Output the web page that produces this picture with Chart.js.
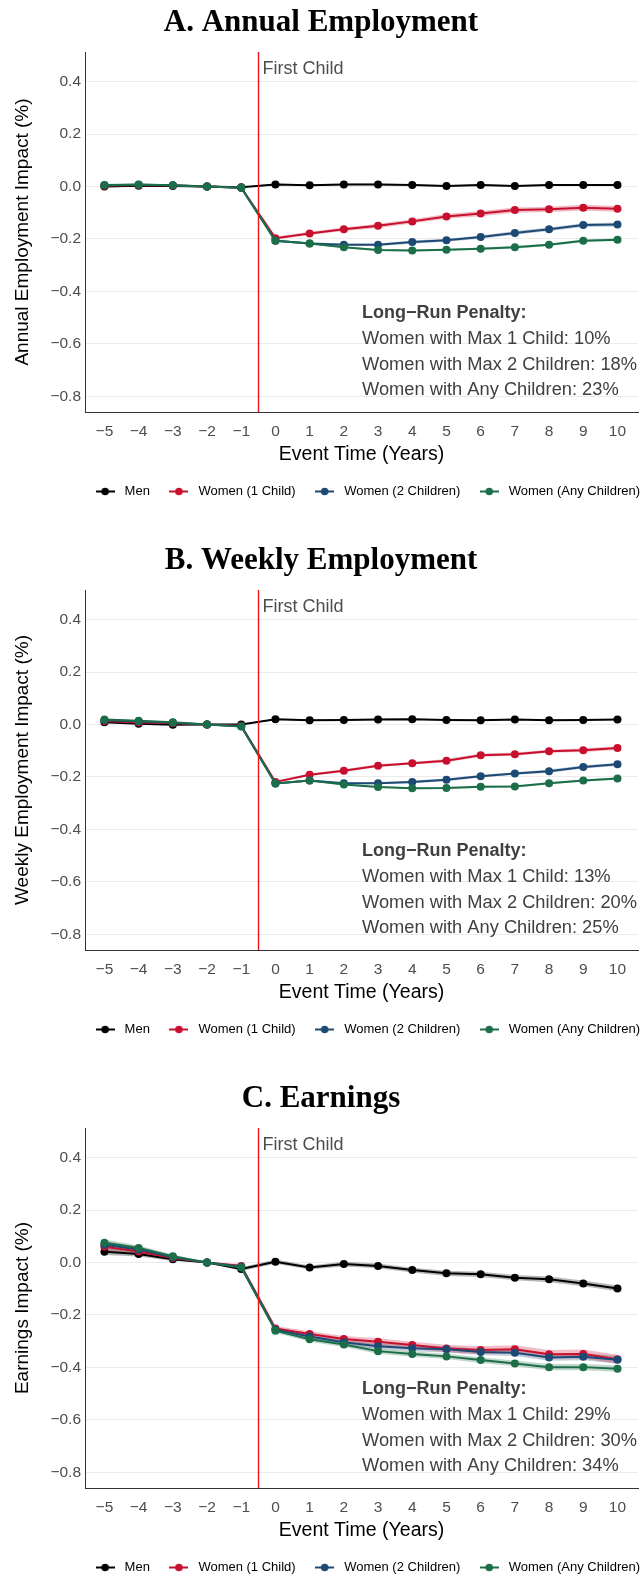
<!DOCTYPE html>
<html>
<head>
<meta charset="utf-8">
<script src="https://cdn.jsdelivr.net/npm/chart.js@4.4.1/dist/chart.umd.min.js"></script>
<style>
  body { margin: 0; background: #fff; overflow: hidden; }
  .panel { width: 642px; height: 538px; }
</style>
</head>
<body>
<div class="panel"><canvas id="chartA" width="642" height="538"></canvas></div>
<div class="panel"><canvas id="chartB" width="642" height="538"></canvas></div>
<div class="panel"><canvas id="chartC" width="642" height="538"></canvas></div>
<script>
// event time and axis ticks
const eventTime = [-5, -4, -3, -2, -1, 0, 1, 2, 3, 4, 5, 6, 7, 8, 9, 10];
const yTicks = [-0.8, -0.6, -0.4, -0.2, 0.0, 0.2, 0.4];
const seriesNames = ['Men', 'Women (1 Child)', 'Women (2 Children)', 'Women (Any Children)'];
const seriesColors = ['#000000', '#c8102e', '#1c4a75', '#1b6e48'];

// A. Annual employment
const menA      = [0.000, 0.003, 0.002, 0.000, -0.003, 0.008, 0.005, 0.008, 0.008, 0.006, 0.002, 0.006, 0.002, 0.006, 0.006, 0.006];
const oneChildA = [0.003, 0.006, 0.004, 0.000, -0.005, -0.197, -0.179, -0.163, -0.150, -0.133, -0.114, -0.103, -0.090, -0.087, -0.081, -0.085];
const twoChildA = [0.005, 0.007, 0.005, 0.000, -0.005, -0.207, -0.217, -0.222, -0.222, -0.212, -0.205, -0.193, -0.177, -0.163, -0.147, -0.145];
const anyChildA = [0.006, 0.008, 0.005, 0.000, -0.005, -0.207, -0.217, -0.232, -0.242, -0.244, -0.241, -0.237, -0.232, -0.222, -0.207, -0.203];
const ciMenA    = [0.004, 0.003, 0.002, 0, 0.002, 0.003, 0.003, 0.003, 0.003, 0.003, 0.003, 0.003, 0.003, 0.003, 0.003, 0.003];
const ciOneA    = [0.004, 0.003, 0.002, 0, 0.003, 0.005, 0.006, 0.007, 0.008, 0.008, 0.009, 0.010, 0.010, 0.010, 0.011, 0.011];
const ciTwoA    = [0.004, 0.003, 0.002, 0, 0.003, 0.004, 0.004, 0.005, 0.005, 0.006, 0.006, 0.006, 0.007, 0.007, 0.007, 0.008];
const ciAnyA    = [0.003, 0.002, 0.002, 0, 0.002, 0.003, 0.003, 0.003, 0.004, 0.004, 0.004, 0.004, 0.005, 0.005, 0.005, 0.005];
const penaltyA  = ['10%', '18%', '23%'];

// B. Weekly employment
const menB      = [0.009, 0.003, -0.001, 0.000, 0.000, 0.020, 0.016, 0.017, 0.019, 0.020, 0.017, 0.016, 0.019, 0.016, 0.017, 0.019];
const oneChildB = [0.013, 0.008, 0.005, 0.000, -0.005, -0.219, -0.192, -0.176, -0.157, -0.148, -0.138, -0.117, -0.113, -0.102, -0.098, -0.090];
const twoChildB = [0.016, 0.011, 0.007, 0.000, -0.007, -0.225, -0.214, -0.224, -0.224, -0.219, -0.211, -0.197, -0.187, -0.178, -0.162, -0.152];
const anyChildB = [0.019, 0.014, 0.009, 0.000, -0.008, -0.225, -0.214, -0.229, -0.238, -0.243, -0.242, -0.237, -0.236, -0.224, -0.214, -0.206];
const ciMenB    = [0.003, 0.002, 0.002, 0, 0.002, 0.003, 0.003, 0.003, 0.003, 0.003, 0.003, 0.003, 0.003, 0.003, 0.003, 0.003];
const ciOneB    = [0.004, 0.003, 0.002, 0, 0.003, 0.004, 0.004, 0.005, 0.005, 0.005, 0.006, 0.006, 0.006, 0.006, 0.007, 0.007];
const ciTwoB    = [0.003, 0.003, 0.002, 0, 0.002, 0.004, 0.004, 0.004, 0.004, 0.005, 0.005, 0.005, 0.005, 0.006, 0.006, 0.006];
const ciAnyB    = [0.003, 0.002, 0.002, 0, 0.002, 0.003, 0.003, 0.003, 0.003, 0.004, 0.004, 0.004, 0.004, 0.004, 0.004, 0.005];
const penaltyB  = ['13%', '20%', '25%'];

// C. Earnings
const menC      = [0.041, 0.032, 0.012, 0.000, -0.025, 0.003, -0.019, -0.006, -0.013, -0.029, -0.041, -0.045, -0.058, -0.064, -0.080, -0.099];
const oneChildC = [0.060, 0.042, 0.017, 0.000, -0.013, -0.252, -0.273, -0.292, -0.302, -0.315, -0.328, -0.334, -0.331, -0.350, -0.349, -0.369];
const twoChildC = [0.068, 0.050, 0.020, 0.000, -0.016, -0.256, -0.282, -0.304, -0.319, -0.327, -0.331, -0.341, -0.344, -0.362, -0.359, -0.371];
const anyChildC = [0.075, 0.055, 0.024, 0.000, -0.019, -0.260, -0.293, -0.313, -0.338, -0.349, -0.358, -0.372, -0.385, -0.399, -0.399, -0.405];
const ciMenC    = [0.012, 0.009, 0.006, 0, 0.007, 0.008, 0.008, 0.009, 0.009, 0.009, 0.010, 0.010, 0.010, 0.011, 0.011, 0.011];
const ciOneC    = [0.015, 0.012, 0.008, 0, 0.008, 0.010, 0.011, 0.012, 0.013, 0.013, 0.014, 0.015, 0.015, 0.016, 0.017, 0.017];
const ciTwoC    = [0.014, 0.011, 0.007, 0, 0.007, 0.009, 0.010, 0.010, 0.011, 0.011, 0.012, 0.012, 0.013, 0.013, 0.014, 0.014];
const ciAnyC    = [0.013, 0.010, 0.007, 0, 0.007, 0.008, 0.009, 0.009, 0.010, 0.010, 0.010, 0.011, 0.011, 0.012, 0.012, 0.012];
const penaltyC  = ['29%', '30%', '34%'];

const penaltyLabels = ['Women with Max 1 Child: ', 'Women with Max 2 Children: ', 'Women with Any Children: '];

Chart.defaults.font.family = '"Liberation Sans", Arial, sans-serif';

function hexA(hex, a) {
    const n = parseInt(hex.slice(1), 16);
    return `rgba(${n >> 16}, ${(n >> 8) & 255}, ${n & 255}, ${a})`;
}

function legendMarker(color) {
    const c = document.createElement('canvas');
    c.width = 19; c.height = 9;
    const g = c.getContext('2d');
    g.strokeStyle = color; g.lineWidth = 2;
    g.beginPath(); g.moveTo(0, 4.5); g.lineTo(19, 4.5); g.stroke();
    g.fillStyle = color;
    g.beginPath(); g.arc(9.5, 4.5, 3.8, 0, Math.PI * 2); g.fill();
    return c;
}

// red line at first child + text notes
const notesPlugin = {
    id: 'panelNotes',
    afterLayout(chart) {
        // legend sits a bit further right and up in the original
        chart.legend.left += 14;
        chart.legend.right += 14;
        chart.legend.top -= 3;
        chart.legend.bottom -= 3;
    },
    afterDatasetsDraw(chart, args, opts) {
        const { ctx, chartArea, scales } = chart;
        const xs = scales.x, ys = scales.y;
        const lx = Math.round(xs.getPixelForValue(-0.5)) + 0.5;
        ctx.save();
        ctx.strokeStyle = '#f01414';
        ctx.lineWidth = 1.4;
        ctx.beginPath();
        ctx.moveTo(lx, chartArea.top);
        ctx.lineTo(lx, chartArea.bottom);
        ctx.stroke();

        ctx.fillStyle = '#4d4d4d';
        ctx.textBaseline = 'middle';
        ctx.textAlign = 'left';
        ctx.font = '18px "Liberation Sans", Arial, sans-serif';
        ctx.fillText('First Child', lx + 4, ys.getPixelForValue(0.447));

        const tx = xs.getPixelForValue(2.53);
        ctx.fillStyle = '#404040';
        ctx.font = 'bold 18px "Liberation Sans", Arial, sans-serif';
        ctx.fillText('Long\u2212Run Penalty:', tx, ys.getPixelForValue(-0.482));
        ctx.font = '18.3px "Liberation Sans", Arial, sans-serif';
        const rows = [-0.582, -0.679, -0.776];
        opts.penalty.forEach((p, i) => {
            ctx.fillText(penaltyLabels[i] + p, tx, ys.getPixelForValue(rows[i]));
        });
        ctx.restore();
    }
};

function makePanel(id, title, yTitle, values, cis, penalty) {
    const lines = values.map((v, i) => ({
        label: seriesNames[i],
        data: v,
        borderColor: seriesColors[i],
        backgroundColor: seriesColors[i],
        borderWidth: 2,
        pointRadius: 4,
        pointBorderWidth: 0,
        tension: 0,
        fill: false,
        order: 4 - i
    }));
    const bands = [];
    values.forEach((v, i) => {
        bands.push({
            label: seriesNames[i] + ' lo',
            data: v.map((y, k) => y - cis[i][k]),
            borderWidth: 0, pointRadius: 0, fill: false, order: 20
        });
        bands.push({
            label: seriesNames[i] + ' hi',
            data: v.map((y, k) => y + cis[i][k]),
            borderWidth: 0, pointRadius: 0, fill: '-1',
            backgroundColor: hexA(seriesColors[i], 0.28), order: 20
        });
    });

    new Chart(document.getElementById(id), {
        type: 'line',
        data: { labels: eventTime, datasets: lines.concat(bands) },
        options: {
            responsive: false,
            animation: false,
            layout: { padding: { top: 0, left: 0, right: 0, bottom: 27 } },
            scales: {
                x: {
                    type: 'linear',
                    min: -5.568, max: 10.6,
                    afterBuildTicks: s => { s.ticks = eventTime.map(v => ({ value: v })); },
                    afterFit: s => { s.height = 60; },
                    grid: { display: false, drawTicks: false },
                    border: { display: true, color: '#333333', width: 1 },
                    ticks: {
                        padding: 10, color: '#4d4d4d', font: { size: 15.5 },
                        callback: v => (v < 0 ? '\u2212' : '') + Math.abs(v)
                    },
                    title: {
                        display: true, text: 'Event Time (Years)', color: '#000',
                        font: { size: 19.5 }, padding: { top: 0, bottom: 6 }
                    }
                },
                y: {
                    min: -0.86, max: 0.513,
                    afterBuildTicks: s => { s.ticks = yTicks.map(v => ({ value: v })); },
                    afterFit: s => { s.width = 85; },
                    grid: { color: '#ebebeb', lineWidth: 1, drawTicks: false },
                    border: { display: true, color: '#333333', width: 1 },
                    ticks: {
                        padding: 4, color: '#4d4d4d', font: { size: 15.5 },
                        callback: v => (v < -0.001 ? '\u2212' : '') + Math.abs(v).toFixed(1)
                    },
                    title: {
                        display: true, text: yTitle, color: '#000',
                        font: { size: 19 }, padding: { top: 11, bottom: 0 }
                    }
                }
            },
            plugins: {
                title: {
                    display: true, text: title, color: '#000',
                    font: { family: '"Liberation Serif", "Times New Roman", serif', size: 31, weight: 'bold' },
                    padding: { top: 4, bottom: 10.8 }
                },
                legend: {
                    position: 'bottom',
                    align: 'end',
                    labels: {
                        usePointStyle: true,
                        pointStyleWidth: 26,
                        padding: 16,
                        color: '#1a1a1a',
                        font: { size: 13 },
                        generateLabels: () => seriesNames.map((n, i) => ({
                            text: n,
                            pointStyle: legendMarker(seriesColors[i]),
                            fillStyle: seriesColors[i],
                            strokeStyle: seriesColors[i],
                            lineWidth: 0,
                            hidden: false,
                            datasetIndex: i
                        }))
                    }
                },
                tooltip: { enabled: false },
                panelNotes: { penalty: penalty }
            }
        },
        plugins: [notesPlugin]
    });
}

makePanel('chartA', 'A. Annual Employment', 'Annual Employment Impact (%)',
    [menA, oneChildA, twoChildA, anyChildA], [ciMenA, ciOneA, ciTwoA, ciAnyA], penaltyA);
makePanel('chartB', 'B. Weekly Employment', 'Weekly Employment Impact (%)',
    [menB, oneChildB, twoChildB, anyChildB], [ciMenB, ciOneB, ciTwoB, ciAnyB], penaltyB);
makePanel('chartC', 'C. Earnings', 'Earnings Impact (%)',
    [menC, oneChildC, twoChildC, anyChildC], [ciMenC, ciOneC, ciTwoC, ciAnyC], penaltyC);
</script>
</body>
</html>
